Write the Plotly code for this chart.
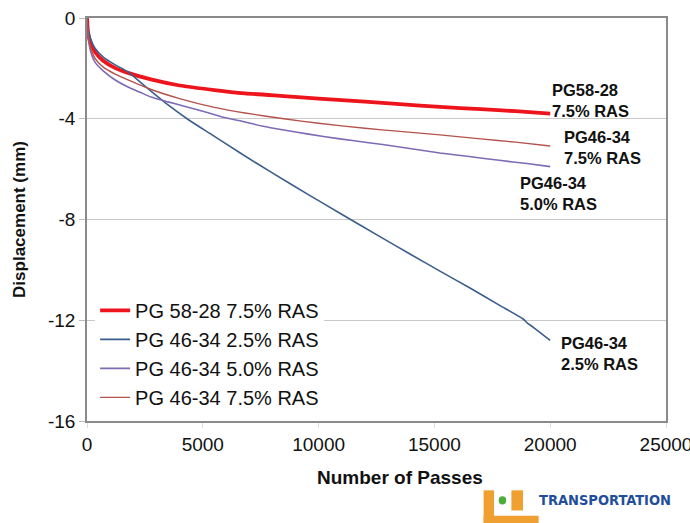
import plotly.graph_objects as go

# ---- data ----
passes_red = [0, 50, 150, 345, 700, 1200, 1770, 2800, 4000, 5500, 6820, 8500, 10000, 12000, 13500, 15240, 17000, 18500, 20000]
disp_red = [0, -0.6, -1.0, -1.35, -1.7, -1.98, -2.18, -2.45, -2.68, -2.86, -2.99, -3.1, -3.2, -3.32, -3.42, -3.53, -3.62, -3.7, -3.8]

passes_blue = [0, 50, 150, 345, 700, 1200, 1770, 2300, 2800, 3500, 4400, 5400, 6600, 8000, 9630, 10920, 12500, 14000, 15240, 16500, 17800, 18830, 19000, 19300, 20000]
disp_blue = [0, -0.45, -0.8, -1.2, -1.55, -1.85, -2.14, -2.55, -2.93, -3.45, -4.05, -4.64, -5.35, -6.15, -7.05, -7.75, -8.6, -9.4, -10.05, -10.7, -11.4, -11.95, -12.1, -12.3, -12.8]

passes_purple = [0, 50, 150, 345, 700, 1200, 1770, 2300, 2800, 3500, 4200, 5000, 5800, 6820, 7600, 8500, 9500, 10920, 12000, 13500, 15240, 16500, 17800, 19000, 20000]
disp_purple = [0, -0.75, -1.3, -1.75, -2.1, -2.45, -2.74, -2.95, -3.15, -3.33, -3.5, -3.7, -3.92, -4.13, -4.3, -4.45, -4.6, -4.8, -4.93, -5.12, -5.36, -5.5, -5.65, -5.78, -5.9]

passes_brown = [0, 50, 150, 345, 700, 1200, 1770, 2800, 4000, 5500, 6820, 8500, 10000, 12000, 13500, 15240, 17000, 18500, 20000]
disp_brown = [0, -0.65, -1.15, -1.6, -1.95, -2.22, -2.46, -2.85, -3.2, -3.55, -3.77, -4.0, -4.18, -4.38, -4.5, -4.64, -4.8, -4.93, -5.08]

series_names = ["PG 58-28 7.5% RAS", "PG 46-34 2.5% RAS", "PG 46-34 5.0% RAS", "PG 46-34 7.5% RAS"]
end_labels = ["PG58-28<br>7.5% RAS", "PG46-34<br>2.5% RAS", "PG46-34<br>5.0% RAS", "PG46-34<br>7.5% RAS"]
end_label_x = [20050, 20420, 18650, 20550]
end_label_y = [-2.46, -12.5, -6.15, -4.33]

x_ticks = [0, 5000, 10000, 15000, 20000, 25000]
y_ticks = [0, -4, -8, -12, -16]

colors = ["#EE141C", "#3B5E8C", "#7D6BB5", "#B5524C"]
widths = [3.8, 1.6, 1.6, 1.4]

fig = go.Figure()
for xs, ys, name, c, w in zip(
    [passes_red, passes_blue, passes_purple, passes_brown],
    [disp_red, disp_blue, disp_purple, disp_brown],
    series_names, colors, widths):
    fig.add_trace(go.Scatter(x=xs, y=ys, mode="lines", name=name,
                             line=dict(color=c, width=w, shape="spline", smoothing=0.6)))

# end-of-curve labels
for xx, yy, txt in zip(end_label_x, end_label_y, end_labels):
    fig.add_annotation(x=xx, y=yy, text=f"<b>{txt}</b>", showarrow=False, xanchor="left",
                       yanchor="top", align="left", borderpad=0,
                       font=dict(family="Liberation Sans, Arial", size=16.5, color="#111"))

# x-axis title (placed as in the reference, slightly right of centre)
fig.add_annotation(xref="paper", yref="paper", x=0.54, y=-0.141, xanchor="center", yanchor="middle",
                   text="<b>Number of Passes</b>", showarrow=False,
                   font=dict(family="Liberation Sans, Arial", size=19, color="#111"))

fig.update_layout(
    width=690, height=523,
    margin=dict(l=87, r=24, t=18, b=102),
    paper_bgcolor="white", plot_bgcolor="white",
    font=dict(family="Liberation Sans, Arial", size=19, color="#111"),
    showlegend=True,
    legend=dict(x=0.014, y=0.323, xanchor="left", yanchor="top", bgcolor="white",
                font=dict(size=20), itemwidth=30, tracegroupgap=0),
    xaxis=dict(range=[0, 25000], tickvals=x_ticks, ticktext=[str(v) for v in x_ticks],
               showgrid=False, zeroline=False, showline=True, linecolor="#8a8a8a",
               linewidth=1.5, mirror=True, ticks="outside", ticklen=5, tickcolor="#dddddd",
               automargin=False, tickfont=dict(size=19), ticklabeloverflow="allow"),
    yaxis=dict(range=[-16, 0], tickvals=y_ticks, ticktext=[str(v) for v in y_ticks],
               showgrid=True, gridcolor="#c8c8c8", gridwidth=1, zeroline=False,
               showline=True, linecolor="#8a8a8a", linewidth=1.5, mirror=True,
               ticks="outside", ticklen=6, tickcolor="#bbbbbb", automargin=False,
               tickfont=dict(size=19),
               title=dict(text="<b>Displacement (mm)</b>", font=dict(size=17), standoff=18)),
)

# logo (bottom right)
fig.add_shape(type="rect", xref="paper", yref="paper", x0=0.685, x1=0.703, y0=-0.253, y1=-0.172,
              fillcolor="#F0A030", line=dict(width=0))
fig.add_shape(type="rect", xref="paper", yref="paper", x0=0.685, x1=0.78, y0=-0.253, y1=-0.235,
              fillcolor="#F0A030", line=dict(width=0))
fig.add_shape(type="rect", xref="paper", yref="paper", x0=0.733, x1=0.753, y0=-0.222, y1=-0.172,
              fillcolor="#F0A030", line=dict(width=0))
fig.add_shape(type="circle", xref="paper", yref="paper", x0=0.711, x1=0.724, y0=-0.207, y1=-0.187,
              fillcolor="#4BAE3A", line=dict(width=0))
fig.add_annotation(xref="paper", yref="paper", x=0.777, y=-0.196, xanchor="left", yanchor="middle",
                   text="<b>TRANSPORTATION</b>", showarrow=False,
                   font=dict(family="DejaVu Sans Condensed, Liberation Sans Narrow", size=14.5, color="#1F4E9A"))

fig.write_html("out.html")
